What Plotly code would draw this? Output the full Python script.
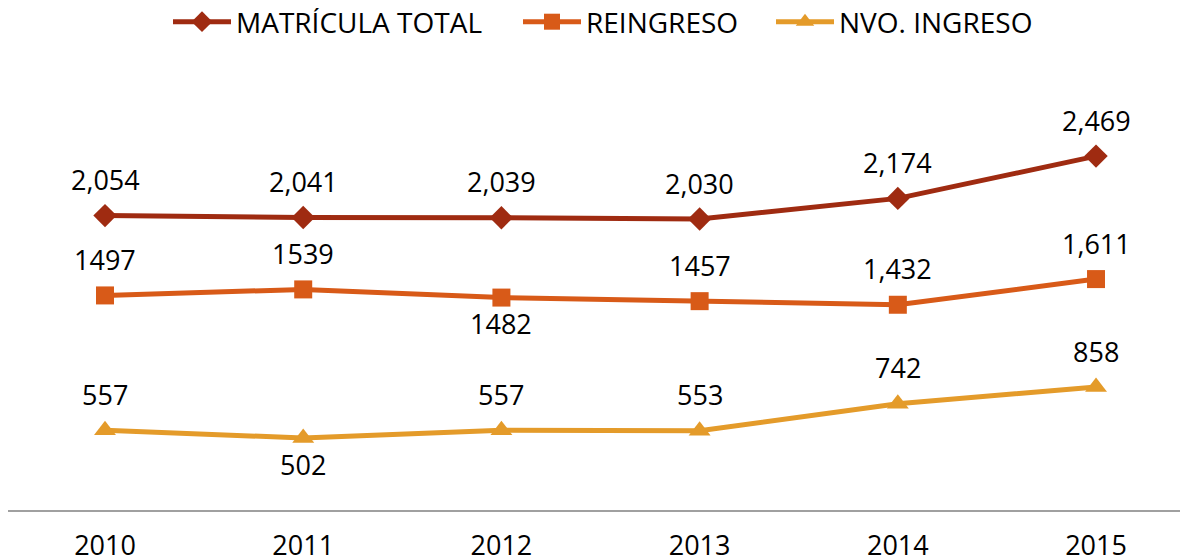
import plotly.graph_objects as go

years = ["2010", "2011", "2012", "2013", "2014", "2015"]
total = [2054, 2041, 2039, 2030, 2174, 2469]
reingreso = [1497, 1539, 1482, 1457, 1432, 1611]
nuevo = [557, 502, 557, 553, 742, 858]

total_labels = ["2,054", "2,041", "2,039", "2,030", "2,174", "2,469"]
reingreso_labels = ["1497", "1539", "1482", "1457", "1,432", "1,611"]
nuevo_labels = ["557", "502", "557", "553", "742", "858"]
reingreso_pos = ["above", "above", "below", "above", "above", "above"]
nuevo_pos = ["above", "below", "above", "above", "above", "above"]

c_total = "#9F2B11"
c_re = "#D85A18"
c_nu = "#E49B2A"
font_family = "Open Sans, Noto Sans, sans-serif"

W, H = 1180, 552  # page body has an 8px margin

fig = go.Figure()
fig.add_trace(go.Scatter(x=list(range(6)), y=total, mode="lines+markers", name="MATRÍCULA TOTAL",
                         line=dict(color=c_total, width=5), legend="legend",
                         marker=dict(symbol="diamond", size=18, color=c_total)))
fig.add_trace(go.Scatter(x=list(range(6)), y=reingreso, mode="lines+markers", name="REINGRESO",
                         line=dict(color=c_re, width=5), legend="legend2",
                         marker=dict(symbol="square", size=18, color=c_re)))
fig.add_trace(go.Scatter(x=list(range(6)), y=nuevo, mode="lines+markers", name="NVO. INGRESO",
                         line=dict(color=c_nu, width=5), legend="legend3",
                         marker=dict(symbol="triangle-up", size=19, color=c_nu)))

annotations = []
def add_labels(vals, labels, positions):
    for i, (v, t, p) in enumerate(zip(vals, labels, positions)):
        annotations.append(dict(x=i, y=v, xref="x", yref="y", text=t, showarrow=False,
                                yshift=36 if p == "above" else -26,
                                font=dict(size=27, color="#000000", family=font_family)))

add_labels(total, total_labels, ["above"] * 6)
add_labels(reingreso, reingreso_labels, reingreso_pos)
add_labels(nuevo, nuevo_labels, nuevo_pos)

def leg(xpx):
    return dict(orientation="h", x=xpx / W, xanchor="left", xref="container",
                y=1 - 14 / H, yanchor="middle", yref="container",
                font=dict(size=28, color="#000000", family=font_family), itemwidth=58,
                bgcolor="rgba(0,0,0,0)")

fig.update_layout(
    width=W, height=H,
    margin=dict(l=0, r=0, t=72, b=50, autoexpand=False),
    paper_bgcolor="white", plot_bgcolor="white",
    font=dict(family=font_family, size=27, color="#000000"),
    annotations=annotations,
    showlegend=True,
    legend=leg(160), legend2=leg(510), legend3=leg(763),
    xaxis=dict(range=[-0.4894, 5.464], tickmode="array", tickvals=list(range(6)), ticktext=years,
               showline=True, linecolor="#A0A0A0", linewidth=2, showgrid=False, zeroline=False,
               ticks="outside", ticklen=11, tickcolor="rgba(0,0,0,0)", automargin=False,
               tickfont=dict(size=27, color="#000000")),
    yaxis=dict(range=[0, 3000], visible=False, showgrid=False, zeroline=False, automargin=False),
)

fig.write_html("out.html")
